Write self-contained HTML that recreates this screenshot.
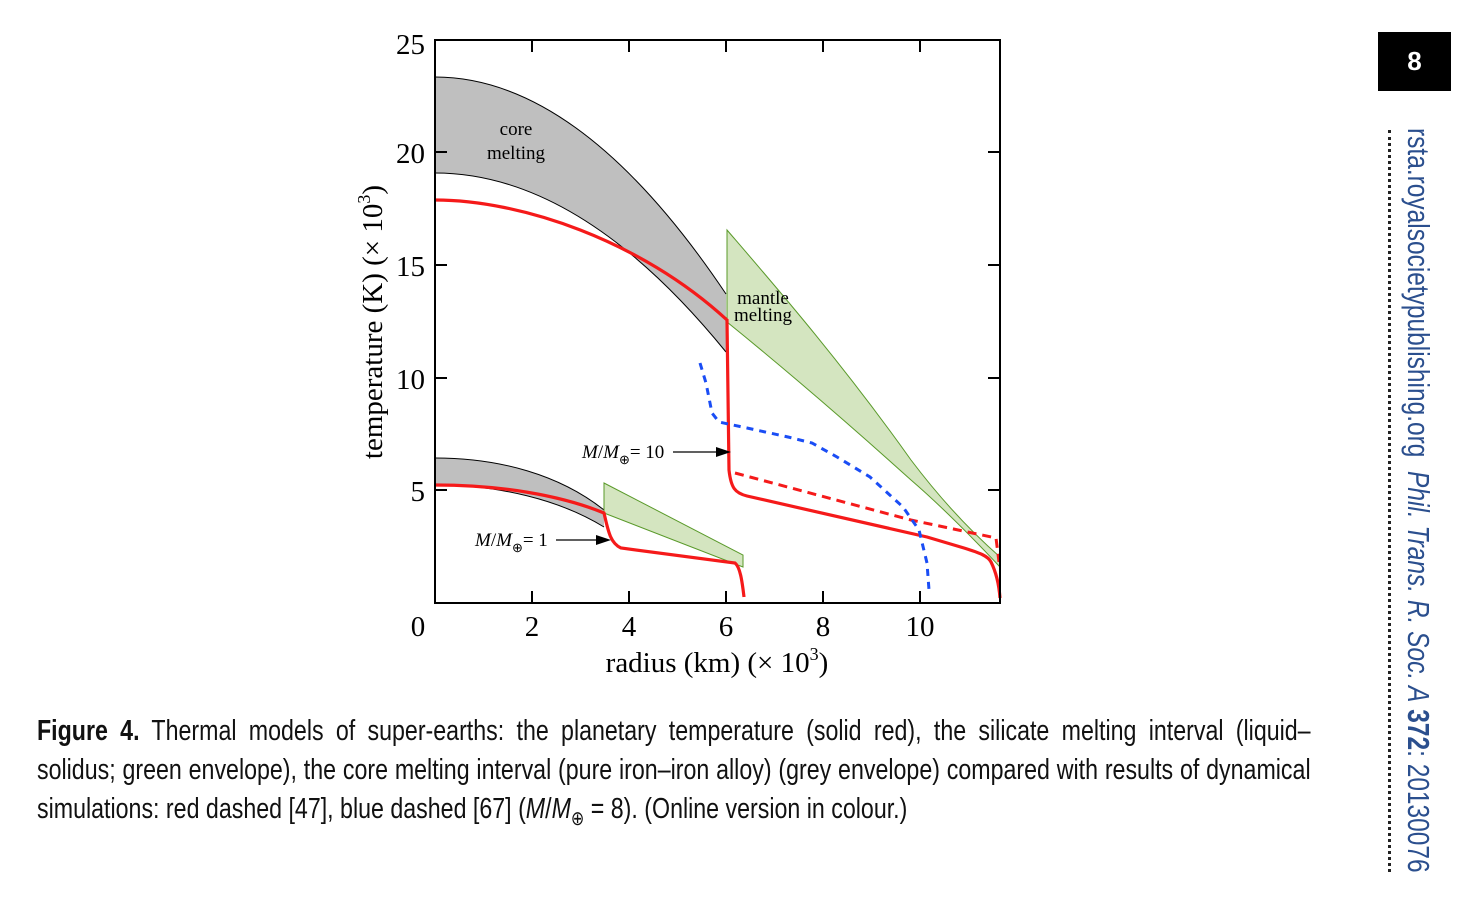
<!DOCTYPE html>
<html><head><meta charset="utf-8"><style>
body{margin:0;background:#fff;width:1474px;height:912px;overflow:hidden;position:relative}
.ln{position:absolute;left:37px;font-family:"Liberation Sans",sans-serif;font-size:29px;line-height:36px;color:#111;white-space:nowrap;transform-origin:0 0;transform:scaleX(0.8)}
.j{width:1592px;text-align:justify;text-align-last:justify;white-space:normal}
.box{position:absolute;left:1378px;top:32px;width:73px;height:59px;background:#000;color:#fff;font:bold 26px "Liberation Sans",sans-serif;text-align:center;line-height:59px}
.side{position:absolute;left:1436px;top:128px;transform-origin:0 0;transform:rotate(90deg) scaleX(0.79);white-space:nowrap;font-family:"Liberation Sans",sans-serif;font-size:31px;color:#2b4f8e;line-height:36px}
.dots{position:absolute;left:1388px;top:130px;height:742px;border-left:3px dotted #222}
</style></head><body>
<svg width="1474" height="912" style="position:absolute;left:0;top:0" font-family="Liberation Serif,serif">
<path d="M435,77 Q580.5,77 726,294 L726,352 Q580.5,173 435,173 Z" fill="#bfbfbf" stroke="none"/>
<path d="M435,77 Q580.5,77 726,294 M435,173 Q580.5,173 726,352" fill="none" stroke="#000" stroke-width="1"/>
<path d="M727,230 C770,280 840,360 911,460 C945,505 975,535 1000,557 L1000,567 C970,535 940,505 911,480 C850,425 780,365 727,322 Z" fill="#d4e5c0" stroke="#5a9a2a" stroke-width="1"/>
<path d="M435,458 C500,458 560,475 604,510 L604,527 C560,500 500,485 435,485 Z" fill="#bfbfbf"/>
<path d="M435,458 C500,458 560,475 604,510 M435,485 C500,485 560,500 604,527" fill="none" stroke="#000" stroke-width="1"/>
<path d="M604,483 L743,555 L743,567 L604,513 Z" fill="#d4e5c0" stroke="#5a9a2a" stroke-width="1"/>
<path d="M435,200 C520,200 640,240 727,320 L729,470 C731,488 735,493 747,496 L927,537 L964,548 C980,553 988,556 991,562 C996,572 999,585 1000,598" fill="none" stroke="#f51a1a" stroke-width="3.2"/>
<path d="M435,485 C500,485 560,495 604,513 C608,530 610,543 621,548 L735,563 C740,567 742,580 744,597" fill="none" stroke="#f51a1a" stroke-width="3.2"/>
<path d="M735,473 L911,520 L996,538 L999,562" fill="none" stroke="#f51a1a" stroke-width="3" stroke-dasharray="9,6"/>
<path d="M700,363 L706,383 L712,413 L719,422 L747,428 L788,437 L812,443 L837,457 L870,477 L903,507 L919,530 L927,563 L929,590" fill="none" stroke="#1a4df5" stroke-width="3" stroke-dasharray="7,6"/>
<rect x="435" y="40" width="565" height="563" fill="none" stroke="#000" stroke-width="2"/>
<g stroke="#000" stroke-width="2">
<line x1="532" y1="603" x2="532" y2="591"/><line x1="629" y1="603" x2="629" y2="591"/><line x1="726" y1="603" x2="726" y2="591"/><line x1="823" y1="603" x2="823" y2="591"/><line x1="920" y1="603" x2="920" y2="591"/>
<line x1="532" y1="40" x2="532" y2="52"/><line x1="629" y1="40" x2="629" y2="52"/><line x1="726" y1="40" x2="726" y2="52"/><line x1="823" y1="40" x2="823" y2="52"/><line x1="920" y1="40" x2="920" y2="52"/>
<line x1="435" y1="152" x2="447" y2="152"/><line x1="435" y1="265" x2="447" y2="265"/><line x1="435" y1="378" x2="447" y2="378"/><line x1="435" y1="490" x2="447" y2="490"/>
<line x1="1000" y1="152" x2="988" y2="152"/><line x1="1000" y1="265" x2="988" y2="265"/><line x1="1000" y1="378" x2="988" y2="378"/><line x1="1000" y1="490" x2="988" y2="490"/>
</g>
<g font-size="29" fill="#000">
<text x="425" y="54" text-anchor="end">25</text><text x="425" y="163" text-anchor="end">20</text><text x="425" y="276" text-anchor="end">15</text><text x="425" y="389" text-anchor="end">10</text><text x="425" y="501" text-anchor="end">5</text>
<text x="418" y="636" text-anchor="middle">0</text><text x="532" y="636" text-anchor="middle">2</text><text x="629" y="636" text-anchor="middle">4</text><text x="726" y="636" text-anchor="middle">6</text><text x="823" y="636" text-anchor="middle">8</text><text x="920" y="636" text-anchor="middle">10</text>
<text x="717" y="672" text-anchor="middle">radius (km) (× 10<tspan font-size="18" dy="-12">3</tspan><tspan dy="12">)</tspan></text>
<text transform="translate(382,322) rotate(-90)" text-anchor="middle">temperature (K) (× 10<tspan font-size="18" dy="-12">3</tspan><tspan dy="12">)</tspan></text>
</g>
<g font-size="19" fill="#000" text-anchor="middle">
<text x="516" y="135">core</text><text x="516" y="159">melting</text>
<text x="763" y="304">mantle</text><text x="763" y="321">melting</text>
</g>
<g font-size="19" fill="#000">
<text x="582" y="458"><tspan font-style="italic">M</tspan>/<tspan font-style="italic">M</tspan><tspan font-size="13" dy="6">⊕</tspan><tspan dy="-6">= 10</tspan></text>
<text x="475" y="546"><tspan font-style="italic">M</tspan>/<tspan font-style="italic">M</tspan><tspan font-size="13" dy="6">⊕</tspan><tspan dy="-6">= 1</tspan></text>
</g>
<line x1="673" y1="452" x2="718" y2="452" stroke="#000" stroke-width="1.3"/><path d="M731,452 L716,447 L716,457 Z"/>
<line x1="556" y1="540" x2="598" y2="540" stroke="#000" stroke-width="1.3"/><path d="M611,540 L596,535 L596,545 Z"/>
</svg>
<div class="ln j" style="top:713px;height:36px;overflow:hidden"><b>Figure 4.</b> Thermal models of super-earths: the planetary temperature (solid red), the silicate melting interval (liquid–</div>
<div class="ln j" style="top:752px;height:36px;overflow:hidden">solidus; green envelope), the core melting interval (pure iron–iron alloy) (grey envelope) compared with results of dynamical</div>
<div class="ln" style="top:791px">simulations: red dashed [47], blue dashed [67] (<i>M</i>/<i>M</i><span style="font-size:20px;position:relative;top:7px">⊕</span> = 8). (Online version in colour.)</div>
<div class="box">8</div>
<div class="dots"></div>
<div class="side">rsta.royalsocietypublishing.org&nbsp;&nbsp;<i>Phil. Trans. R. Soc. A</i> <b>372</b>: 20130076</div>
</body></html>
